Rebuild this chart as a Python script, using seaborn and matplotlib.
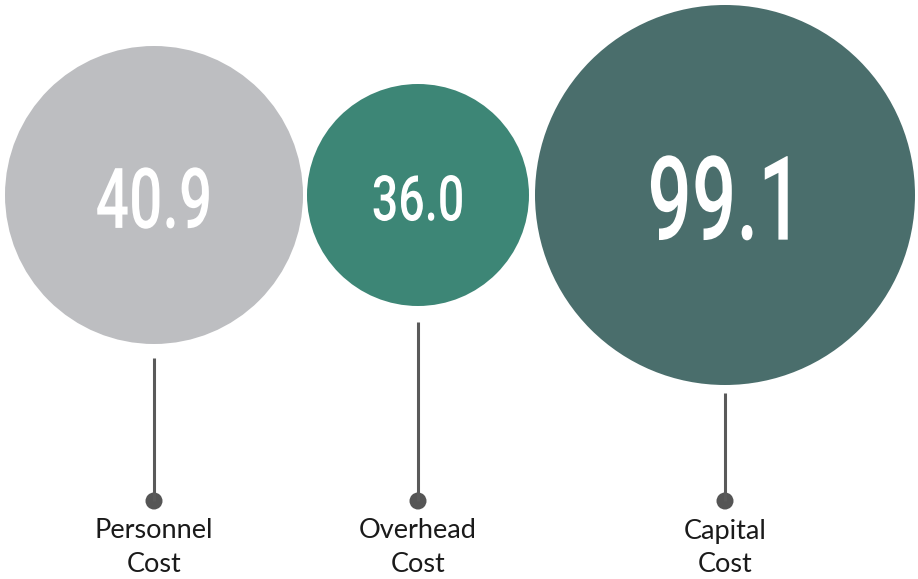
import matplotlib.pyplot as plt
import pandas as pd
import seaborn as sns
from matplotlib.patches import Circle
from matplotlib.patheffects import AbstractPathEffect
from matplotlib.transforms import Affine2D

# Data
categories = ['Personnel', 'Overhead', 'Capital']
values = [40.9, 36.0, 99.1]
colors = ['#bdbec1', '#3d8676', '#4a6e6c']

# Layout (pixel coordinates)
cx = [154, 418, 725]
cy = 195
radius = [149, 111, 190]
font_px = [84, 63, 117]
squeeze = [0.70, 0.74, 0.67]
line_top = [358, 322, 393]
dot_y = 501


class Squeeze(AbstractPathEffect):
    # narrows the glyphs horizontally around the text anchor (condensed look)
    def __init__(self, ax, x, sx):
        super().__init__()
        self.ax, self.x, self.sx = ax, x, sx

    def draw_path(self, renderer, gc, tpath, affine, rgbFace=None):
        xc = self.ax.transData.transform((self.x, 0))[0]
        squeeze_t = Affine2D().translate(-xc, 0).scale(self.sx, 1).translate(xc, 0)
        renderer.draw_path(gc, tpath, affine + squeeze_t, rgbFace)


sns.set_theme(style='white')

fig, ax = plt.subplots(figsize=(9.18, 5.79), dpi=100)
fig.subplots_adjust(left=0, right=1, top=1, bottom=0)
ax.set_xlim(0, 918)
ax.set_ylim(579, 0)
ax.set_aspect('equal')
ax.axis('off')

for x, r, c, v, fs, sx in zip(cx, radius, colors, values, font_px, squeeze):
    ax.add_patch(Circle((x, cy), r, color=c, lw=0))
    ax.text(x, cy + 0.356 * fs + 3, f'{v:.1f}', ha='center', va='baseline',
            color='white', fontsize=fs * 0.72, fontweight='medium',
            family=['Roboto', 'DejaVu Sans'], path_effects=[Squeeze(ax, x, sx)])

for x, t in zip(cx, line_top):
    ax.plot([x, x], [t, dot_y], color='#5a5a5a', lw=2.2, solid_capstyle='butt')

df = pd.DataFrame({'x': cx, 'y': [dot_y] * 3, 'cat': categories})
sns.scatterplot(data=df, x='x', y='y', ax=ax, s=150, color='#555555',
                edgecolor='none', legend=False)

for x, cat in zip(cx, categories):
    ax.text(x, 531, cat, ha='center', va='center', fontsize=19.5,
            family=['Lato', 'DejaVu Sans'], color='#1a1a1a')
    ax.text(x, 564, 'Cost', ha='center', va='center', fontsize=19.5,
            family=['Lato', 'DejaVu Sans'], color='#1a1a1a')

ax.set_xlabel('')
ax.set_ylabel('')
fig.savefig('out.png', dpi=100)
